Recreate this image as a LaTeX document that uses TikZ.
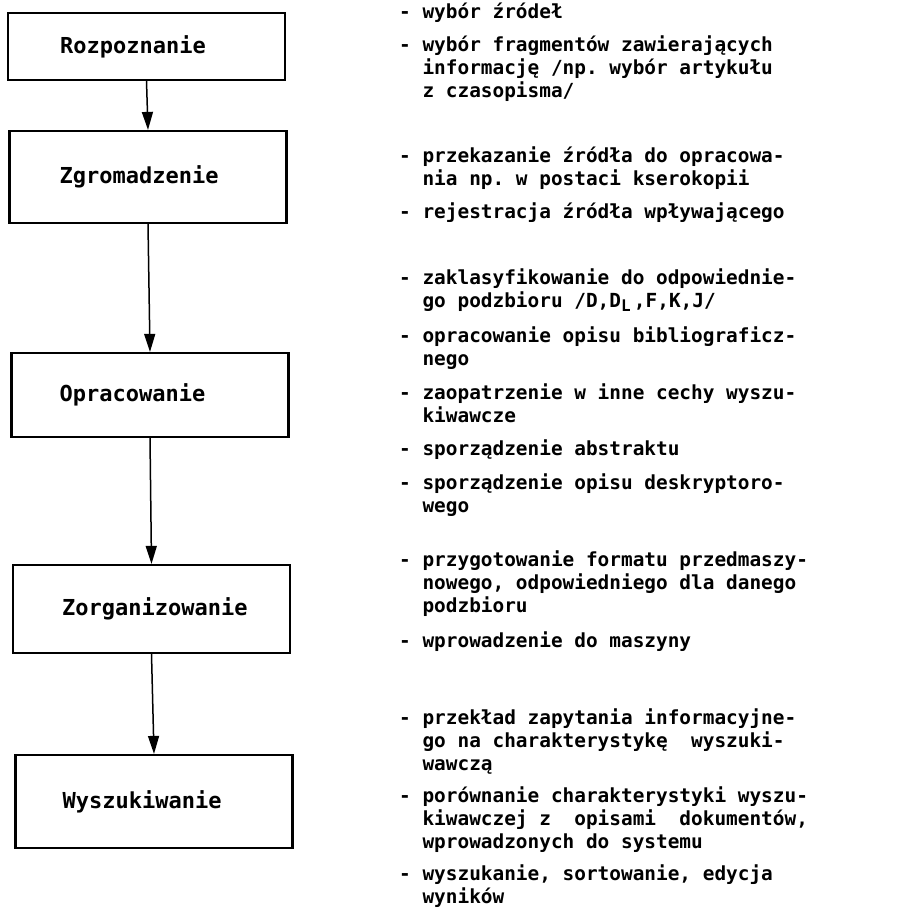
\documentclass[tikz,border=0pt]{standalone}
\usepackage{fontspec}
\usetikzlibrary{arrows.meta,positioning}
\newfontfamily\typwr{DejaVu Sans Mono}
\newcommand{\ind}{\hphantom{-~}}
\frenchspacing

\begin{document}
\begin{tikzpicture}[x=1pt,y=-1pt,
  stage/.style={draw,line width=2.2pt,minimum width=277pt,inner sep=0pt},
  stagename/.style={font=\typwr\bfseries\fontsize{22}{26}\selectfont,inner sep=0pt},
  task/.style={font=\typwr\bfseries\fontsize{19.4}{23}\selectfont,align=left,inner sep=0pt,anchor=base west},
  flow/.style={line width=1.5pt,-{Triangle[length=18pt,width=11pt]}}]
\useasboundingbox (0,0) rectangle (904,910);

% etapy
\node[stage,minimum height=67pt] (rozp) at (146.5,46.5) {};
\node[stage,minimum height=92pt] (zgrom) at (148,177) {};
\node[stage,minimum height=84pt] (oprac) at (150,395) {};
\node[stage,minimum height=88pt] (zorg) at (151.5,609) {};
\node[stage,minimum height=93pt] (wysz) at (154,801.5) {};
\node[stagename,right=53pt of rozp.west] {Rozpoznanie};
\node[stagename,right=51pt of zgrom.west] {Zgromadzenie};
\node[stagename,right=49pt of oprac.west] {Opracowanie};
\node[stagename,right=50pt of zorg.west] {Zorganizowanie};
\node[stagename,right=48pt of wysz.west] {Wyszukiwanie};

\draw[flow] (rozp.south) -- (zgrom.north);
\draw[flow] (zgrom.south) -- (oprac.north);
\draw[flow] (oprac.south) -- (zorg.north);
\draw[flow] (zorg.south) -- (wysz.north);

% czynnosci (y = linia bazowa ostatniego wiersza)
\node[task] (t1) at (399,18) {- wybór źródeł};
\node[task] (t2) at (399,97) {- wybór fragmentów zawierających\\
  \ind informację /np. wybór artykułu\\ \ind z czasopisma/};
\node[task] (t3) at (399,185) {- przekazanie źródła do opracowa-\\
  \ind nia np. w postaci kserokopii};
\node[task] (t4) at (399,218) {- rejestracja źródła wpływającego};
\node[task] (t5) at (399,307) {- zaklasyfikowanie do odpowiednie-\\
  \ind go podzbioru /D,D\raisebox{-0.45ex}{\fontsize{16}{16}\selectfont L}\,,F,K,J/};
\node[task] (t6) at (399,365) {- opracowanie opisu bibliograficz-\\ \ind nego};
\node[task] (t7) at (399,422) {- zaopatrzenie w inne cechy wyszu-\\ \ind kiwawcze};
\node[task] (t8) at (399,455) {- sporządzenie abstraktu};
\node[task] (t9) at (399,512) {- sporządzenie opisu deskryptoro-\\ \ind wego};
\node[task] (t10) at (399,612) {- przygotowanie formatu przedmaszy-\\
  \ind nowego, odpowiedniego dla danego\\ \ind podzbioru};
\node[task] (t11) at (399,647) {- wprowadzenie do maszyny};
\node[task] (t12) at (399,770) {- przekład zapytania informacyjne-\\
  \ind go na charakterystykę\ \ wyszuki-\\ \ind wawczą};
\node[task] (t13) at (399,848) {- porównanie charakterystyki wyszu-\\
  \ind kiwawczej z\ \ opisami\ \ dokumentów,\\ \ind wprowadzonych do systemu};
\node[task] (t14) at (399,903) {- wyszukanie, sortowanie, edycja\\ \ind wyników};
\end{tikzpicture}
\end{document}
